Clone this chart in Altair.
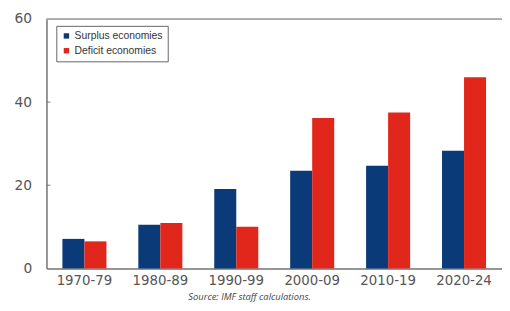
import altair as alt
import pandas as pd

periods = ["1970-79", "1980-89", "1990-99", "2000-09", "2010-19", "2020-24"]
surplus = [7.1, 10.5, 19.1, 23.5, 24.7, 28.3]
deficit = [6.5, 10.9, 10.0, 36.2, 37.5, 46.0]
series = ["Surplus economies", "Deficit economies"]
colors = ["#0b3a78", "#e1261c"]
y_ticks = [0, 20, 40, 60]
source = "Source: IMF staff calculations."

rows = []
for p, s, d in zip(periods, surplus, deficit):
    rows.append({"period": p, "series": series[0], "value": s})
    rows.append({"period": p, "series": series[1], "value": d})
df = pd.DataFrame(rows)

FONT = "DejaVu Sans"
W, H = 462, 253

bars = alt.Chart(df).mark_bar().encode(
    x=alt.X("period:N", sort=periods, title=None,
            scale=alt.Scale(paddingInner=0.42, paddingOuter=0.21),
            axis=alt.Axis(labelAngle=0, tickSize=0, labelPadding=5, labelFontSize=13.5,
                          labelColor="#555", labelFont=FONT, domainColor="#777",
                          domainWidth=1.5)),
    xOffset=alt.XOffset("series:N", sort=series),
    y=alt.Y("value:Q", title=None,
            scale=alt.Scale(domain=[0, 60], nice=False),
            axis=alt.Axis(values=y_ticks, tickSize=0, labelPadding=15, labelFontSize=14,
                          labelColor="#555", labelFont=FONT, grid=False,
                          domainColor="#777", domainWidth=1.5)),
    color=alt.Color("series:N", sort=series,
                    scale=alt.Scale(domain=series, range=colors),
                    legend=alt.Legend(title=None, orient="none", legendX=10, legendY=7,
                                      strokeColor="#666", padding=5, symbolType="square",
                                      symbolSize=30, labelFontSize=10.5, labelFont="Liberation Sans",
                                      labelColor="#333", rowPadding=4, symbolStrokeWidth=0,
                                      labelOffset=3)),
)

top_rule = alt.Chart(pd.DataFrame({"y": [60]})).mark_rule(color="#999", strokeWidth=1.5).encode(
    y="y:Q")

tick_df = pd.DataFrame({"v": y_ticks[1:-1]})
ticks = alt.Chart(tick_df).mark_rule(color="#777").encode(
    y="v:Q", x=alt.value(0), x2=alt.value(4))

src = alt.Chart(pd.DataFrame({"t": [source]})).mark_text(
    font="Open Sans", fontSize=9.5, fontStyle="italic", color="#444", align="center",
    baseline="middle").encode(x=alt.value(206), y=alt.value(282), text="t:N")

chart = alt.layer(bars, top_rule, ticks, src).properties(
    width=W, height=H, autosize=alt.AutoSizeParams(type="none"),
    padding={"left": 39, "top": 9, "right": 0, "bottom": 33},
).configure_view(stroke=None).configure(background="white")

chart.save("out.html", embed_options={"renderer": "svg", "actions": False})
